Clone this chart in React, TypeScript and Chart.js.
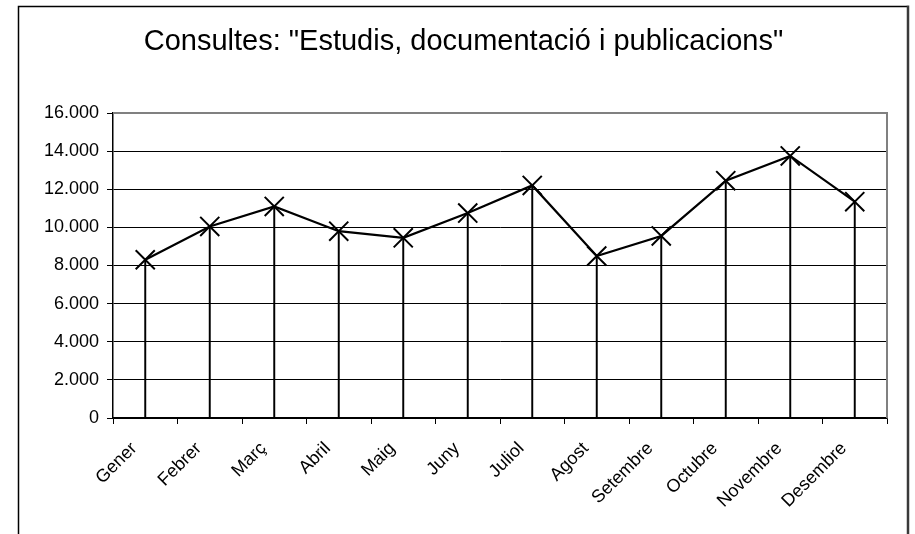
import React, { useEffect, useRef } from "react";
import { Chart, registerables } from "chart.js";

Chart.register(...registerables);

const months = [
  "Gener", "Febrer", "Març", "Abril", "Maig", "Juny",
  "Juliol", "Agost", "Setembre", "Octubre", "Novembre", "Desembre",
];
const consultes = [8300, 10050, 11100, 9800, 9450, 10750, 12200, 8500, 9550, 12450, 13750, 11350];
const yTickLabels = ["0", "2.000", "4.000", "6.000", "8.000", "10.000", "12.000", "14.000", "16.000"];
const titleText = 'Consultes: "Estudis, documentació i publicacions"';

const FONT = "'Liberation Sans', Arial, sans-serif";

const framePlugin = {
  id: "frames",
  beforeDraw(chart: any) {
    const ctx = chart.ctx;
    ctx.save();
    ctx.fillStyle = "#fff";
    ctx.fillRect(0, 0, chart.width, chart.height);
    ctx.strokeStyle = "#000";
    ctx.lineWidth = 1.5;
    ctx.beginPath();
    ctx.moveTo(18.5, chart.height + 5);
    ctx.lineTo(18.5, 6.5);
    ctx.lineTo(907, 6.5);
    ctx.stroke();
    ctx.strokeStyle = "#3a3a3a";
    ctx.lineWidth = 2.5;
    ctx.beginPath();
    ctx.moveTo(908, 5.5);
    ctx.lineTo(908, chart.height + 5);
    ctx.stroke();
    ctx.restore();
  },
  beforeDatasetsDraw(chart: any) {
    const { ctx, chartArea } = chart;
    ctx.save();
    ctx.strokeStyle = "#808080";
    ctx.lineWidth = 2;
    ctx.beginPath();
    ctx.moveTo(chartArea.left, chartArea.top);
    ctx.lineTo(chartArea.right, chartArea.top);
    ctx.lineTo(chartArea.right, chartArea.bottom);
    ctx.stroke();
    ctx.restore();
  },
};

export default function App() {
  const ref = useRef<HTMLCanvasElement>(null);

  useEffect(() => {
    if (!ref.current) return;
    const chart = new Chart(ref.current, {
      type: "bar",
      data: {
        labels: months,
        datasets: [
          {
            type: "line",
            data: consultes,
            borderColor: "#000",
            borderWidth: 2.2,
            pointStyle: "crossRot",
            pointRadius: 13.5,
            pointBorderWidth: 2,
            pointBorderColor: "#000",
            pointBackgroundColor: "#000",
            tension: 0,
            order: 0,
          } as any,
          {
            type: "bar",
            data: consultes,
            backgroundColor: "#000",
            barThickness: 1.3,
            order: 1,
          } as any,
        ],
      },
      options: {
        animation: false,
        responsive: false,
        layout: { padding: { left: 40, right: 28, top: 0, bottom: 0 } },
        plugins: {
          legend: { display: false },
          tooltip: { enabled: false },
          title: {
            display: true,
            text: titleText,
            color: "#000",
            font: { family: FONT, size: 29, weight: "normal", lineHeight: 1.2 },
            padding: { top: 25, bottom: 53.2 },
          },
        },
        scales: {
          x: {
            offset: true,
            grid: {
              offset: true,
              drawOnChartArea: false,
              drawTicks: true,
              tickLength: 6,
              color: "#000",
              lineWidth: 1,
            },
            border: { display: true, color: "#000", width: 1.5 },
            ticks: {
              color: "#000",
              font: { family: FONT, size: 18 },
              minRotation: 45,
              maxRotation: 45,
              autoSkip: false,
              padding: 14,
              labelOffset: -11,
            },
            afterFit: (s: any) => {
              s.height = 116;
            },
          },
          y: {
            min: 0,
            max: 16000,
            grid: {
              color: "#000",
              lineWidth: 1,
              tickLength: 6,
              drawTicks: true,
            },
            border: { display: true, color: "#000", width: 1.5 },
            ticks: {
              stepSize: 2000,
              color: "#000",
              padding: 8,
              font: { family: FONT, size: 18 },
              callback: (_v: any, i: number) => yTickLabels[i],
            },
            afterFit: (s: any) => {
              s.width = 73;
            },
          },
        },
      },
      plugins: [framePlugin],
    });
    return () => chart.destroy();
  }, []);

  return (
    <div style={{ position: "absolute", left: 0, top: 0, width: 915, height: 534, background: "#fff" }}>
      <canvas ref={ref} width={915} height={534} style={{ display: "block" }} />
    </div>
  );
}
